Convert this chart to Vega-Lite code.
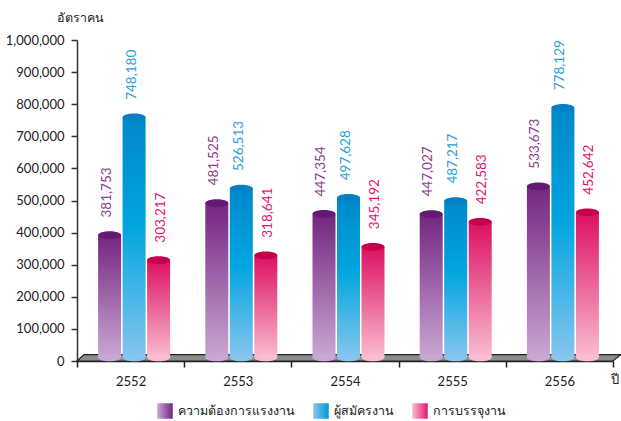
{
"$schema":"https://vega.github.io/schema/vega-lite/v6.json",
"width":536,"height":321,"autosize":"none",
"padding":{"left":77,"top":40,"right":8,"bottom":60},
"background":"white",
"config":{"view":{"stroke":null},"font":"Lato","text":{"font":"Lato"},"axisY":{"tickCount":10,"labelOverlap":false}},
"datasets":{
"main":[
{"year":"2552","series":"ความต้องการแรงงาน","value":381753},
{"year":"2552","series":"ผู้สมัครงาน","value":748180},
{"year":"2552","series":"การบรรจุงาน","value":303217},
{"year":"2553","series":"ความต้องการแรงงาน","value":481525},
{"year":"2553","series":"ผู้สมัครงาน","value":526513},
{"year":"2553","series":"การบรรจุงาน","value":318641},
{"year":"2554","series":"ความต้องการแรงงาน","value":447354},
{"year":"2554","series":"ผู้สมัครงาน","value":497628},
{"year":"2554","series":"การบรรจุงาน","value":345192},
{"year":"2555","series":"ความต้องการแรงงาน","value":447027},
{"year":"2555","series":"ผู้สมัครงาน","value":487217},
{"year":"2555","series":"การบรรจุงาน","value":422583},
{"year":"2556","series":"ความต้องการแรงงาน","value":533673},
{"year":"2556","series":"ผู้สมัครงาน","value":778129},
{"year":"2556","series":"การบรรจุงาน","value":452642}
],
"floor":[
{"fx":0,"base":0,"top":0},
{"fx":7,"base":0,"top":20000},
{"fx":536,"base":0,"top":20000},
{"fx":544,"base":20000,"top":20000}
]},
"resolve":{"scale":{"x":"independent"}},
"layer":[
{"data":{"name":"floor"},
 "mark":{"type":"area","color":"#8c8c8c","stroke":"#222222","strokeWidth":1.2,"clip":false},
 "encoding":{
  "x":{"field":"fx","type":"quantitative","axis":null,"scale":{"domain":[0,536],"nice":false,"zero":false}},
  "y":{"field":"base","type":"quantitative","scale":{"domain":[0,1000000],"nice":false},
   "axis":{"format":",d","grid":false,"domainColor":"#333333","domainWidth":1.5,"tickColor":"#333333","tickWidth":1.5,"tickSize":6,"labelFont":"Lato","labelFontSize":13,"labelColor":"#222222","labelPadding":7,
   "title":"อัตราคน","titleAngle":0,"titleFontSize":12.5,"titleFontWeight":"normal","titleColor":"#222222","titleAlign":"center","titleBaseline":"middle","titleX":3,"titleY":-23}},
  "y2":{"field":"top"}
 }},
{"data":{"name":"main"},
 "encoding":{
  "x":{"field":"year","type":"nominal","scale":{"domain":["2552","2553","2554","2555","2556"],"paddingInner":0,"paddingOuter":0},
   "axis":{"tickBand":"extent","labelAngle":0,"grid":false,"domainColor":"#222222","domainWidth":1.5,"tickColor":"#222222","tickWidth":1.5,"tickSize":6,"labelFont":"Lato","labelFontSize":13,"labelColor":"#222222","labelPadding":8,
   "title":"ปี","titleFontSize":13,"titleFontWeight":"normal","titleColor":"#222222","titleX":537,"titleY":18,"titleAlign":"center","titleBaseline":"middle"}},
  "y":{"field":"value","type":"quantitative"}
 },
 "layer":[
 {"transform":[{"filter":"datum.series==='ความต้องการแรงงาน'"}],"layer":[
  {"mark":{"type":"bar","width":23,"xOffset":-21,"yOffset":-3.5,"y2Offset":-3.5,"color":{"gradient":"linear","x1":0,"y1":0,"x2":0,"y2":1,"stops":[{"offset":0,"color":"#74257f"},{"offset":1,"color":"#c9a6d3"}]}},"encoding":{"y2":{"datum":0}}},
  {"mark":{"type":"point","filled":true,"opacity":1,"xOffset":-21,"yOffset":-3.5,"size":529,"shape":"M-1,0A1,0.33 0 1 1 1,0A1,0.33 0 1 1 -1,0Z","color":"#c9a6d3"},"encoding":{"y":{"datum":0}}},
  {"mark":{"type":"point","filled":true,"opacity":1,"xOffset":-21,"yOffset":-3.5,"size":529,"shape":"M-1,0A1,0.33 0 1 1 1,0A1,0.33 0 1 1 -1,0Z","color":"#641a70"}},
  {"mark":{"type":"text","font":"Lato","fontSize":13.5,"angle":-90,"align":"left","baseline":"middle","color":"#8e3c8e","xOffset":-24,"yOffset":-21},"encoding":{"text":{"field":"value","type":"quantitative","format":",d"}}}
 ]},
 {"transform":[{"filter":"datum.series==='ผู้สมัครงาน'"}],"layer":[
  {"mark":{"type":"bar","width":23,"xOffset":3.5,"yOffset":-3.5,"y2Offset":-3.5,"color":{"gradient":"linear","x1":0,"y1":0,"x2":0,"y2":1,"stops":[{"offset":0,"color":"#0088cc"},{"offset":0.45,"color":"#00a5e0"},{"offset":1,"color":"#85c5ee"}]}},"encoding":{"y2":{"datum":0}}},
  {"mark":{"type":"point","filled":true,"opacity":1,"xOffset":3.5,"yOffset":-3.5,"size":529,"shape":"M-1,0A1,0.33 0 1 1 1,0A1,0.33 0 1 1 -1,0Z","color":"#85c5ee"},"encoding":{"y":{"datum":0}}},
  {"mark":{"type":"point","filled":true,"opacity":1,"xOffset":3.5,"yOffset":-3.5,"size":529,"shape":"M-1,0A1,0.33 0 1 1 1,0A1,0.33 0 1 1 -1,0Z","color":"#0580c4"}},
  {"mark":{"type":"text","font":"Lato","fontSize":13.5,"angle":-90,"align":"left","baseline":"middle","color":"#2a9fd8","xOffset":1,"yOffset":-21},"encoding":{"text":{"field":"value","type":"quantitative","format":",d"}}}
 ]},
 {"transform":[{"filter":"datum.series==='การบรรจุงาน'"}],"layer":[
  {"mark":{"type":"bar","width":23,"xOffset":28,"yOffset":-3.5,"y2Offset":-3.5,"color":{"gradient":"linear","x1":0,"y1":0,"x2":0,"y2":1,"stops":[{"offset":0,"color":"#dc0f62"},{"offset":1,"color":"#f9bcd0"}]}},"encoding":{"y2":{"datum":0}}},
  {"mark":{"type":"point","filled":true,"opacity":1,"xOffset":28,"yOffset":-3.5,"size":529,"shape":"M-1,0A1,0.33 0 1 1 1,0A1,0.33 0 1 1 -1,0Z","color":"#f9bcd0"},"encoding":{"y":{"datum":0}}},
  {"mark":{"type":"point","filled":true,"opacity":1,"xOffset":28,"yOffset":-3.5,"size":529,"shape":"M-1,0A1,0.33 0 1 1 1,0A1,0.33 0 1 1 -1,0Z","color":"#c4004f"}},
  {"mark":{"type":"text","font":"Lato","fontSize":13.5,"angle":-90,"align":"left","baseline":"middle","color":"#e8106e","xOffset":30,"yOffset":-21},"encoding":{"text":{"field":"value","type":"quantitative","format":",d"}}}
 ]},
 {"mark":{"type":"point","filled":true,"opacity":1,"size":0},
  "encoding":{"color":{"field":"series","type":"nominal","scale":{"domain":["ความต้องการแรงงาน","ผู้สมัครงาน","การบรรจุงาน"],"range":[
    {"expr":"{gradient:'linear',x1:0,y1:0,x2:1,y2:0,stops:[{offset:0,color:'#c9a6d3'},{offset:1,color:'#74257f'}]}"},
    {"expr":"{gradient:'linear',x1:0,y1:0,x2:1,y2:0,stops:[{offset:0,color:'#85c5ee'},{offset:1,color:'#0096d8'}]}"},
    {"expr":"{gradient:'linear',x1:0,y1:0,x2:1,y2:0,stops:[{offset:0,color:'#f9bcd0'},{offset:1,color:'#e0186c'}]}"}]},
   "legend":{"orient":"none","legendX":80,"legendY":363,"direction":"horizontal","columns":3,"gridAlign":"none","title":null,"symbolType":"square","symbolSize":240,"symbolStrokeWidth":0,"labelFontSize":12.5,"labelColor":"#222222","labelOffset":5,"columnPadding":18,"symbolOpacity":1}}}}
 ]}
]
}
